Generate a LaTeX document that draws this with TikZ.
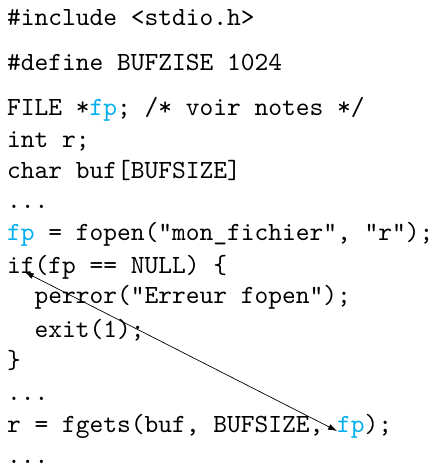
\documentclass[tikz,border=0pt]{standalone}
\usetikzlibrary{arrows.meta}
\definecolor{fpcyan}{RGB}{0,174,239}
\begin{document}
\begin{tikzpicture}[x=1pt,y=1pt,
  codeline/.style={anchor=base west, inner sep=0pt, outer sep=0pt,
    font=\ttfamily\fontsize{10}{12}\selectfont, scale=2.62},
  ptr/.style={fpcyan},
  link/.style={line width=0.7pt, {Latex[length=9pt,width=6pt]}-{Latex[length=9pt,width=6pt]}}]
\useasboundingbox (0,0) rectangle (436,-467);
\def\cw{13.755}
\def\lx{7}
% source lines, base west at column 0 (or indented)
\node[codeline] (l1)  at (\lx,-25)  {\#include <stdio.h>};
\node[codeline] (l2)  at (\lx,-70)  {\#define BUFZISE 1024};
\node[codeline] (l3)  at (\lx,-115) {FILE *\textcolor{fpcyan}{fp}; /* voir notes */};
\node[codeline] (l4)  at (\lx,-147) {int r;};
\node[codeline] (l5)  at (\lx,-178) {char buf[BUFSIZE]};
\node[codeline] (l6)  at (\lx,-208) {...};
\node[codeline] (l7)  at (\lx,-240) {\textcolor{fpcyan}{fp} = fopen("mon\_fichier", "r");};
\node[codeline] (ifkw) at (\lx,-273) {if};
\node[codeline] (l8)  at ({\lx+2*\cw},-273) {(fp == NULL) \{};
\node[codeline] (l9)  at ({\lx+2*\cw},-303) {perror("Erreur fopen");};
\node[codeline] (l10) at ({\lx+2*\cw},-337) {exit(1);};
\node[codeline] (l11) at (\lx,-368) {\}};
\node[codeline] (l12) at (\lx,-400) {...};
\node[codeline] (l13) at (\lx,-432) {r = fgets(buf, BUFSIZE,};
\node[codeline,ptr] (fpuse) at ({\lx+24*\cw},-432) {fp};
\node[codeline] (l13end) at ({\lx+26*\cw},-432) {);};
\node[codeline] (l14) at (\lx,-463) {...};
% link between the test and the later use of fp
\draw[link] ([xshift=4pt,yshift=1pt]ifkw.base) -- ([yshift=1pt]fpuse.base west);
\end{tikzpicture}
\end{document}
